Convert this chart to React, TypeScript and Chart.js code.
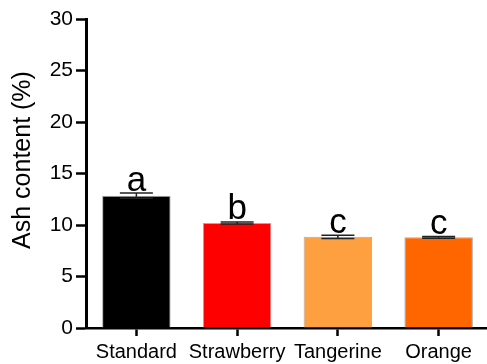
import React, { useEffect, useRef } from "react";
import { Chart, registerables } from "chart.js";

Chart.register(...registerables);

const categories = ["Standard", "Strawberry", "Tangerine", "Orange"];
const meanValues = [12.85, 10.2, 8.85, 8.8];
const errorValues = [0.25, 0.1, 0.15, 0.08];
const groupLetters = ["a", "b", "c", "c"];
const barColors = ["#000000", "#FF0000", "#FFA040", "#FF6600"];
const yTitle = "Ash content (%)";
const yMin = 0;
const yMax = 30;
const yStep = 5;

const FONT = "Arial, 'Liberation Sans', sans-serif";

const errorPlugin = {
  id: "errorAndLetters",
  afterDatasetsDraw(chart: any) {
    const ctx = chart.ctx;
    const xs = chart.scales.x;
    const ys = chart.scales.y;
    ctx.save();
    meanValues.forEach((v, i) => {
      const x = xs.getPixelForValue(i);
      const yTop = ys.getPixelForValue(v + errorValues[i]);
      const yBot = ys.getPixelForValue(v - errorValues[i]);
      ctx.strokeStyle = "#222";
      ctx.lineWidth = 1.5;
      ctx.beginPath();
      ctx.moveTo(x, yBot);
      ctx.lineTo(x, yTop);
      ctx.moveTo(x - 16.5, yTop);
      ctx.lineTo(x + 16.5, yTop);
      ctx.moveTo(x - 16.5, yBot);
      ctx.lineTo(x + 16.5, yBot);
      ctx.stroke();
      ctx.fillStyle = "#000";
      ctx.font = `35px ${FONT}`;
      ctx.textAlign = "center";
      ctx.textBaseline = "alphabetic";
      ctx.fillText(groupLetters[i], x, yTop - 2.5);
    });
    // y axis title
    ctx.translate(23, 160);
    ctx.rotate(-Math.PI / 2);
    ctx.font = `25px ${FONT}`;
    ctx.textAlign = "center";
    ctx.textBaseline = "middle";
    ctx.fillStyle = "#000";
    ctx.fillText(yTitle, 0, 0);
    ctx.restore();
  },
};

export default function App() {
  const ref = useRef<HTMLCanvasElement>(null);
  useEffect(() => {
    if (!ref.current) return;
    const chart = new Chart(ref.current, {
      type: "bar",
      data: {
        labels: categories,
        datasets: [
          {
            data: meanValues,
            backgroundColor: barColors,
            borderColor: "#aaaaaa",
            borderWidth: 1,
            categoryPercentage: 1,
            barPercentage: 0.68,
          },
        ],
      },
      options: {
        responsive: false,
        animation: false,
        devicePixelRatio: 1,
        layout: { padding: { top: 19, right: 0, bottom: 0, left: 0 } },
        plugins: { legend: { display: false }, tooltip: { enabled: false } },
        scales: {
          x: {
            offset: true,
            grid: {
              offset: false,
              drawOnChartArea: false,
              drawTicks: true,
              tickLength: 8,
              tickWidth: 2.5,
              tickColor: "#000",
            },
            border: { display: true, color: "#000", width: 2.5 },
            ticks: {
              autoSkip: false,
              maxRotation: 0,
              minRotation: 0,
              color: "#000",
              padding: 4,
              font: { family: FONT, size: 20 },
            },
            afterFit(scale: any) {
              scale.height = 36;
            },
          },
          y: {
            min: yMin,
            max: yMax,
            ticks: {
              stepSize: yStep,
              color: "#000",
              padding: 3,
              font: { family: FONT, size: 21 },
            },
            grid: {
              drawOnChartArea: false,
              drawTicks: true,
              tickLength: 10,
              tickWidth: 2.5,
              tickColor: "#000",
            },
            border: { display: true, color: "#000", width: 3 },
            afterFit(scale: any) {
              scale.width = 86;
            },
          },
        },
      },
      plugins: [errorPlugin],
    });
    return () => chart.destroy();
  }, []);
  return (
    <div
      style={{
        position: "fixed",
        left: 0,
        top: 0,
        width: 487,
        height: 364,
        overflow: "hidden",
        background: "#fff",
      }}
    >
      <canvas ref={ref} width={489} height={364} style={{ display: "block" }} />
    </div>
  );
}
